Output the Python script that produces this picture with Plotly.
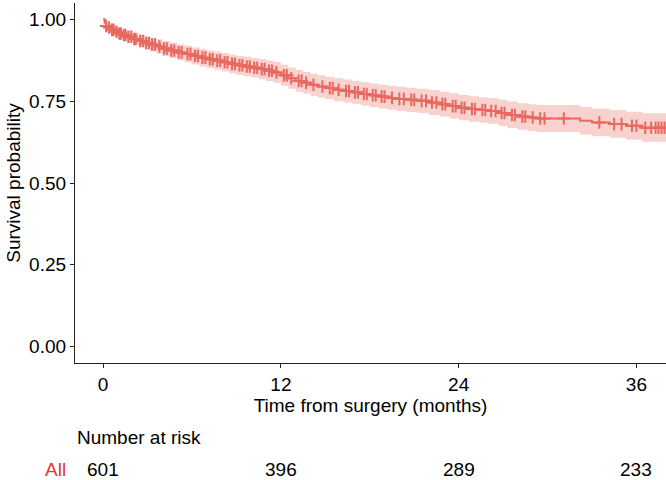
import numpy as np
import plotly.graph_objects as go

# Kaplan-Meier step curve (months, survival probability)
km_time = [0, 0.1, 0.2, 0.3, 0.5, 0.8, 1.0, 1.3, 1.6, 2.0, 2.4, 2.8, 3.2, 3.6, 4.0, 4.5,
           5.0, 5.5, 6.0, 6.5, 7.0, 7.5, 8.0, 8.5, 9.0, 9.5, 10.0, 10.5, 11.0, 11.5,
           12.0, 12.5, 13.0, 13.5, 14.0, 14.5, 15.0, 15.6, 16.2, 16.8, 17.4, 18.0,
           18.6, 19.2, 19.8, 20.5, 21.2, 22.0, 22.7, 23.4, 24.0, 24.7, 25.4, 26.0,
           26.7, 27.3, 28.0, 28.7, 29.3, 32.2, 33.0, 34.2, 35.3, 36.4, 38.0]
km_surv = [1.000, 0.990, 0.980, 0.975, 0.968, 0.962, 0.957, 0.952, 0.947, 0.940, 0.934,
           0.928, 0.923, 0.917, 0.911, 0.905, 0.899, 0.894, 0.888, 0.883, 0.878, 0.874,
           0.869, 0.864, 0.860, 0.856, 0.852, 0.848, 0.843, 0.838, 0.829, 0.820, 0.812,
           0.806, 0.800, 0.795, 0.790, 0.785, 0.781, 0.777, 0.772, 0.768, 0.764, 0.760,
           0.757, 0.754, 0.751, 0.746, 0.741, 0.735, 0.730, 0.726, 0.723, 0.720, 0.714,
           0.708, 0.703, 0.700, 0.697, 0.690, 0.685, 0.680, 0.675, 0.669, 0.669]
km_lower = [1.000, 0.982, 0.969, 0.963, 0.955, 0.948, 0.942, 0.936, 0.930, 0.922, 0.915,
            0.908, 0.902, 0.895, 0.888, 0.882, 0.875, 0.869, 0.862, 0.856, 0.851, 0.846,
            0.841, 0.835, 0.831, 0.826, 0.822, 0.817, 0.812, 0.806, 0.797, 0.788, 0.779,
            0.773, 0.766, 0.761, 0.756, 0.750, 0.746, 0.742, 0.737, 0.732, 0.728, 0.724,
            0.720, 0.717, 0.714, 0.708, 0.703, 0.697, 0.692, 0.687, 0.684, 0.681, 0.674,
            0.668, 0.663, 0.659, 0.656, 0.648, 0.643, 0.638, 0.632, 0.626, 0.626]
km_upper = [1.000, 0.998, 0.991, 0.987, 0.981, 0.976, 0.972, 0.968, 0.964, 0.958, 0.953,
            0.948, 0.944, 0.939, 0.934, 0.929, 0.923, 0.919, 0.914, 0.910, 0.905, 0.902,
            0.897, 0.893, 0.889, 0.886, 0.882, 0.879, 0.874, 0.870, 0.861, 0.853, 0.845,
            0.839, 0.834, 0.829, 0.825, 0.820, 0.816, 0.812, 0.808, 0.804, 0.800, 0.797,
            0.794, 0.791, 0.788, 0.784, 0.779, 0.774, 0.769, 0.765, 0.762, 0.760, 0.754,
            0.749, 0.744, 0.741, 0.738, 0.732, 0.728, 0.723, 0.718, 0.713, 0.713]

# Censoring times (months)
censor_time = [0.2, 0.4, 0.6, 0.7, 0.9, 1.1, 1.2, 1.4, 1.5, 1.7, 1.9, 2.1, 2.2, 2.5, 2.7,
               2.9, 3.1, 3.3, 3.5, 3.8, 4.1, 4.3, 4.6, 4.8, 5.1, 5.3, 5.7, 5.9, 6.2, 6.4,
               6.7, 6.9, 7.2, 7.4, 7.7, 7.9, 8.2, 8.4, 8.7, 8.9, 9.2, 9.4, 9.7, 9.9, 10.2,
               10.4, 10.7, 10.9, 11.2, 11.4, 11.7, 12.2, 12.4, 12.7, 13.2, 13.4, 13.7,
               14.2, 14.8, 15.3, 15.5, 15.9, 16.4, 16.6, 17.0, 17.2, 17.6, 17.8, 18.2,
               18.4, 18.8, 19.0, 19.5, 20.0, 20.3, 20.8, 21.0, 21.5, 21.8, 22.2, 22.5,
               22.9, 23.1, 23.6, 23.8, 24.2, 24.4, 24.9, 25.1, 25.6, 25.8, 26.2, 26.5,
               26.9, 27.1, 27.6, 27.8, 28.3, 28.5, 29.0, 29.5, 29.8, 31.1, 33.5, 34.5,
               35.0, 35.7, 36.0, 36.6, 37.0, 37.3, 37.5, 37.7, 37.9]

# Number at risk table
risk_time = [0, 12, 24, 36]
risk_count = [601, 396, 289, 233]
risk_group = "All"

x_ticks = [0, 12, 24, 36]
y_ticks = [0, 0.25, 0.5, 0.75, 1.0]
y_ticktext = ["0.00", "0.25", "0.50", "0.75", "1.00"]

LINE = "#E8695F"
BAND = "rgba(232,105,95,0.30)"
FONT = "Liberation Sans, Arial, sans-serif"
FS = 19

idx = np.searchsorted(np.array(km_time), np.array(censor_time), side="right") - 1
censor_surv = [km_surv[i] for i in idx]

fig = go.Figure()
fig.add_trace(go.Scatter(x=km_time, y=km_upper, mode="lines", line=dict(width=0, shape="hv"),
                         hoverinfo="skip", showlegend=False))
fig.add_trace(go.Scatter(x=km_time, y=km_lower, mode="lines", line=dict(width=0, shape="hv"),
                         fill="tonexty", fillcolor=BAND, hoverinfo="skip", showlegend=False))
fig.add_trace(go.Scatter(x=km_time, y=km_surv, mode="lines",
                         line=dict(color=LINE, width=2, shape="hv"), showlegend=False))
fig.add_trace(go.Scatter(x=censor_time, y=censor_surv, mode="markers",
                         marker=dict(symbol="cross-thin", size=9, line=dict(color=LINE, width=2)),
                         showlegend=False))

ann = [dict(text="Number at risk", x=0, y=-0.2075, xref="paper", yref="paper",
            xanchor="left", yanchor="middle", showarrow=False,
            font=dict(family=FONT, size=FS, color="black")),
       dict(text=risk_group, x=-0.011, y=-0.296, xref="paper", yref="paper",
            xanchor="right", yanchor="middle", showarrow=False,
            font=dict(family=FONT, size=FS, color="#E0393A"))]
for t, n in zip(risk_time, risk_count):
    ann.append(dict(text=str(n), x=t, y=-0.296, xref="x", yref="paper",
                    xanchor="center", yanchor="middle", showarrow=False,
                    font=dict(family=FONT, size=FS, color="black")))

fig.update_layout(
    width=666, height=480,
    margin=dict(l=75, r=0, t=3, b=117),
    plot_bgcolor="white", paper_bgcolor="white",
    font=dict(family=FONT, size=FS, color="black"),
    annotations=ann,
    xaxis=dict(range=[-1.9, 38.0], tickvals=x_ticks, showgrid=False, zeroline=False,
               showline=True, linecolor="#222222", linewidth=1.2,
               ticks="outside", ticklen=4, tickcolor="#222222",
               tickfont=dict(family=FONT, size=FS, color="black"),
               title=dict(text="Time from surgery (months)", standoff=0,
                          font=dict(family=FONT, size=FS, color="black"))),
    yaxis=dict(range=[-0.05, 1.05], tickvals=y_ticks, ticktext=y_ticktext, showgrid=False,
               zeroline=False, showline=True, linecolor="#222222", linewidth=1.2,
               ticks="outside", ticklen=4, tickcolor="#222222",
               tickfont=dict(family=FONT, size=FS, color="black"),
               title=dict(text="Survival probability", standoff=3,
                          font=dict(family=FONT, size=FS, color="black"))),
)

fig.write_html("out.html", config={"displayModeBar": False},
               post_script="document.body.style.margin='0px';document.body.style.overflow='hidden';")
